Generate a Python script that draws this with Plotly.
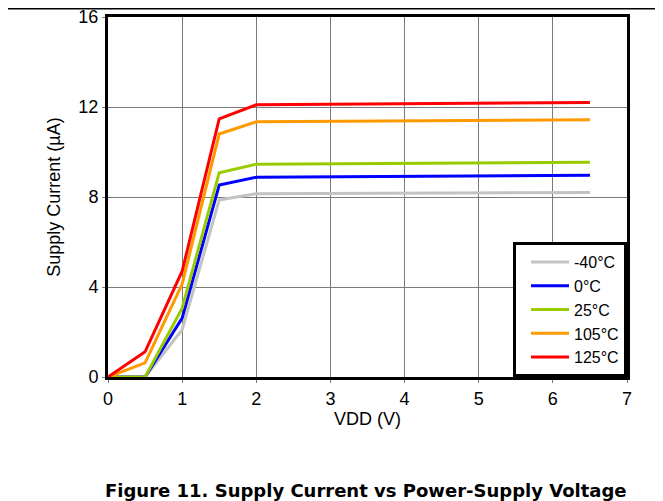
import plotly.graph_objects as go

vdd = [0, 0.5, 1, 1.5, 2, 4, 6.5]
i_m40 = [0, 0, 2.1, 7.87, 8.15, 8.18, 8.2]
i_0 = [0, 0, 2.62, 8.53, 8.88, 8.93, 8.97]
i_25 = [0, 0, 3.06, 9.08, 9.46, 9.5, 9.54]
i_105 = [0, 0.63, 4.13, 10.8, 11.34, 11.38, 11.43]
i_125 = [0, 1.12, 4.7, 11.47, 12.1, 12.15, 12.2]
series_names = ["-40°C", "0°C", "25°C", "105°C", "125°C"]
series_vals = [i_m40, i_0, i_25, i_105, i_125]
colors = ["#c3c3c3", "#0000ff", "#99cc00", "#ff9900", "#ff0000"]

fig = go.Figure()
for name, vals, c in zip(series_names, series_vals, colors):
    fig.add_trace(go.Scatter(x=vdd, y=vals, mode="lines", name=name,
                             line=dict(color=c, width=3)))

F = "Arial, Liberation Sans, sans-serif"
axis_common = dict(showline=True, linecolor="black", linewidth=3, mirror=True,
                   showgrid=True, gridcolor="#7a7a7a", gridwidth=1,
                   ticks="outside", ticklen=3, tickcolor="#7a7a7a", tickwidth=1,
                   zeroline=False, automargin=False, ticklabeloverflow="allow",
                   tickfont=dict(family=F, size=18, color="black"))
fig.update_xaxes(range=[0, 7], dtick=1, title=dict(text="VDD (V)", standoff=2,
                 font=dict(family=F, size=18, color="black")), **axis_common)
fig.update_yaxes(range=[0, 16], dtick=4, title=dict(text="Supply Current (µA)", standoff=14,
                 font=dict(family=F, size=18, color="black")), **axis_common)

T, L, PH, PW = 9, 100, 360, 519
fig.update_layout(
    width=663, height=501,
    margin=dict(l=L, r=663 - L - PW, t=T, b=501 - T - PH, autoexpand=False),
    plot_bgcolor="white", paper_bgcolor="white",
    font=dict(family=F, size=18, color="black"),
    legend=dict(x=1, y=0, xanchor="right", yanchor="bottom",
                bgcolor="white", bordercolor="black", borderwidth=3,
                font=dict(family=F, size=16, color="black"),
                itemwidth=38, indentation=10,
                tracegroupgap=0),
    showlegend=True,
)
fig.add_shape(type="line", xref="paper", yref="paper", x0=-0.3, x1=1.2,
              y0=(PH + T - 0.5) / PH, y1=(PH + T - 0.5) / PH,
              line=dict(color="black", width=2))
fig.add_annotation(text="<b>Figure 11. Supply Current vs Power-Supply Voltage</b>",
                   xref="paper", yref="paper", x=(95 - L) / PW, y=-(482 - T - PH) / PH,
                   xanchor="left", yanchor="middle", showarrow=False,
                   font=dict(family="DejaVu Sans", size=18, color="black"))
fig.write_html("out.html")
